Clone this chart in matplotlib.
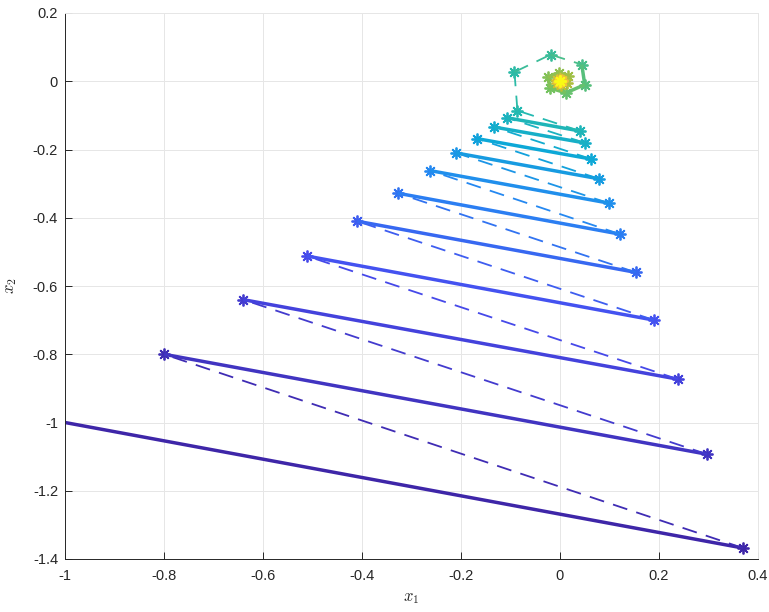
import matplotlib
matplotlib.use("Agg")
import matplotlib.pyplot as plt
from matplotlib.colors import LinearSegmentedColormap

# ---- data: state trajectory (x1, x2) and active mode of each step ----
x1 = [-1.000, 0.370, -0.800, 0.297, -0.640, 0.238, -0.512, 0.190, -0.410, 0.153,
      -0.328, 0.121, -0.262, 0.098, -0.210, 0.079, -0.168, 0.063, -0.134, 0.051,
      -0.107, 0.041, -0.086, -0.092, -0.019, 0.044, 0.050, 0.012, -0.020, -0.024,
      -0.003, 0.016, 0.014, 0.003, -0.007, -0.007, -0.001, 0.005, 0.005, 0.001,
      -0.002, -0.001, 0.001, 0.001, 0.000]
x2 = [-1.000, -1.368, -0.800, -1.093, -0.640, -0.873, -0.512, -0.700, -0.410, -0.560,
      -0.328, -0.448, -0.262, -0.357, -0.210, -0.286, -0.168, -0.228, -0.134, -0.181,
      -0.107, -0.146, -0.086, 0.027, 0.078, 0.049, -0.010, -0.034, -0.020, 0.011,
      0.025, 0.014, -0.004, -0.010, -0.004, 0.005, 0.008, 0.004, 0.000, -0.002,
      -0.001, 0.001, 0.001, 0.000, 0.000]
# mode of each step (1 = solid, 2 = dashed)
mode = [1, 2, 1, 2, 1, 2, 1, 2, 1, 2, 1, 2, 1, 2, 1, 2, 1, 2, 1, 2, 1, 2,
        2, 2, 2, 1, 1, 1, 1, 1, 1, 1, 1, 1, 1, 1, 1, 1, 1, 1, 1, 1, 1, 1]

xticks = [-1, -0.8, -0.6, -0.4, -0.2, 0, 0.2, 0.4]
xticklabels = ["-1", "-0.8", "-0.6", "-0.4", "-0.2", "0", "0.2", "0.4"]
yticks = [0.2, 0, -0.2, -0.4, -0.6, -0.8, -1, -1.2, -1.4]
yticklabels = ["0.2", "0", "-0.2", "-0.4", "-0.6", "-0.8", "-1", "-1.2", "-1.4"]

# parula-like colormap
parula = LinearSegmentedColormap.from_list("parula_like", [
    (0.000, (0.2422, 0.1504, 0.6603)),
    (0.125, (0.2780, 0.3000, 0.9400)),
    (0.250, (0.1500, 0.5300, 0.9500)),
    (0.375, (0.0500, 0.6600, 0.8400)),
    (0.500, (0.1500, 0.7300, 0.6800)),
    (0.625, (0.4500, 0.7600, 0.3800)),
    (0.750, (0.7500, 0.7400, 0.2000)),
    (0.875, (0.9700, 0.7500, 0.2300)),
    (1.000, (0.9769, 0.9839, 0.0805)),
])

plt.rcParams["mathtext.fontset"] = "cm"
plt.rcParams["lines.scale_dashes"] = False

fig = plt.figure(figsize=(7.69, 6.12), dpi=100)
ax = fig.add_axes([65 / 769, 53 / 612, 693 / 769, 546 / 612])

nseg = len(x1) - 1
for i in range(nseg):
    c = parula(i / (nseg - 1))
    xs = [x1[i], x1[i + 1]]
    ys = [x2[i], x2[i + 1]]
    if mode[i] == 1:
        ax.plot(xs, ys, color=c, lw=2.5, solid_capstyle="butt", zorder=2 + i * 0.01)
    else:
        ax.plot(xs, ys, color=c, lw=1.3, dashes=(10.8, 6.8), zorder=2 + i * 0.01)
    ax.plot([x1[i + 1]], [x2[i + 1]], linestyle="none", marker=(8, 2, 0),
            markersize=8.5, markeredgewidth=1.3, color=c, zorder=2 + i * 0.01 + 0.005)

ax.set_xlim(-1, 0.4)
ax.set_ylim(-1.4, 0.2)
ax.set_xticks(xticks)
ax.set_xticklabels(xticklabels, fontfamily="Liberation Sans", fontsize=10.5)
ax.set_yticks(yticks)
ax.set_yticklabels(yticklabels, fontfamily="Liberation Sans", fontsize=10.5)
ax.tick_params(direction="in", length=5, width=0.7, colors="0.15", pad=7)
ax.tick_params(axis="y", pad=5)
ax.grid(True, color="0.9", lw=0.7)
ax.set_axisbelow(True)
for s in ["left", "bottom"]:
    ax.spines[s].set_color("0.15")
    ax.spines[s].set_linewidth(0.7)
for s in ["top", "right"]:
    ax.spines[s].set_color("0.9")
    ax.spines[s].set_linewidth(0.7)

ax.set_xlabel(r"$x_1$", fontsize=12, color="0.15", labelpad=4)
ax.set_ylabel(r"$x_2$", fontsize=12, color="0.15", labelpad=10)

fig.savefig("out.png", dpi=100)
